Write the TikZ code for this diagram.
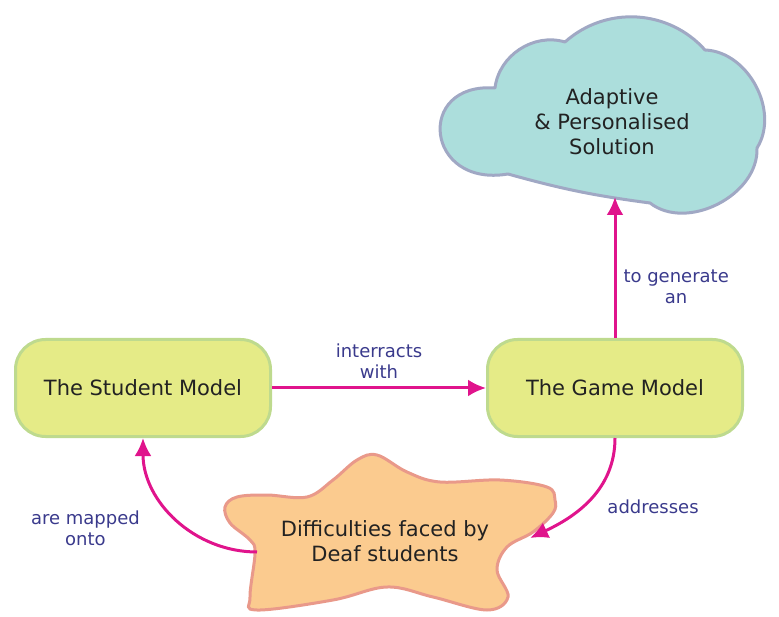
\documentclass[tikz,border=0pt]{standalone}
\usepackage{fontspec}
\setmainfont{DejaVu Sans}
\usetikzlibrary{arrows.meta}
\definecolor{boxfill}{RGB}{229,235,135}
\definecolor{boxline}{RGB}{190,218,142}
\definecolor{cloudfill}{RGB}{172,222,220}
\definecolor{cloudline}{RGB}{160,168,196}
\definecolor{blobfill}{RGB}{251,203,143}
\definecolor{blobline}{RGB}{233,153,138}
\definecolor{linkpink}{RGB}{224,20,140}
\definecolor{lblblue}{RGB}{58,58,140}
\definecolor{textdark}{RGB}{34,34,34}
\begin{document}
\begin{tikzpicture}[x=1pt,y=-1pt]%[scale=1]
  \tikzset{model/.style={draw=boxline, fill=boxfill, line width=3pt, rounded corners=30pt,
      minimum width=255pt, minimum height=97pt, text=textdark, font=\fontsize{21}{25}\selectfont},
    bigtext/.style={text=textdark, align=center, font=\fontsize{21}{25}\selectfont},
    link/.style={draw=linkpink, line width=3pt, -{Latex[length=18pt,width=17pt]}},
    lbl/.style={text=lblblue, font=\fontsize{18}{21}\selectfont, align=center, inner sep=2pt}}
  \useasboundingbox (0,0) rectangle (779,617);
  % cloud
  \draw[draw=cloudline, fill=cloudfill, line width=3pt, line join=round]
      (495,88) to[bend left=50] (565,42) to[bend left=45] (705,50) to[bend left=60] (757,148)
      to[bend left=65] (650,203) to[bend left=4] (508,174)
      .. controls (425,188) and (415,82) .. (495,88) -- cycle;
  \node[bigtext] (solution) at (612,122) {Adaptive\\\& Personalised\\Solution};
  \coordinate (cloudfoot) at (615,197);
  \node[model] (student) at (143,388) {The Student Model};
  \node[model] (game) at (615,388) {The Game Model};
  % blob
  \draw[draw=blobline, fill=blobfill, line width=3pt] plot[smooth cycle, tension=0.6] coordinates {
      (225,507) (237,497) (267,495) (307,497) (333,480) (357,460) (377,455) (407,472)
      (440,482) (500,480) (547,487) (555,500) (553,513) (533,532) (507,547) (497,570)
      (508,597) (487,610) (433,597) (387,587) (333,600) (257,610) (250,597) (255,553)
      (250,540) (230,523)};
  \node[bigtext] (difficulties) at (385,541) {Difficulties faced by\\Deaf students};
  \coordinate (blobW) at (257,552);
  \coordinate (blobE) at (530,538);
  \draw[link] (student) -- (game) node[lbl, midway, above=6pt] {interracts\\with};
  \draw[link] (game.north) -- (cloudfoot) node[lbl, pos=0.36, right=5pt] {to generate\\an};
  \draw[link] (game.south) to[out=-90, in=25] node[lbl, pos=0.5, anchor=west, xshift=14pt, yshift=-8pt] {addresses} (blobE);
  \draw[link] (blobW) to[out=180, in=-90] node[lbl, pos=0.5, anchor=east, xshift=-33pt, yshift=-10pt] {are mapped\\onto} (student.south);
\end{tikzpicture}
\end{document}
